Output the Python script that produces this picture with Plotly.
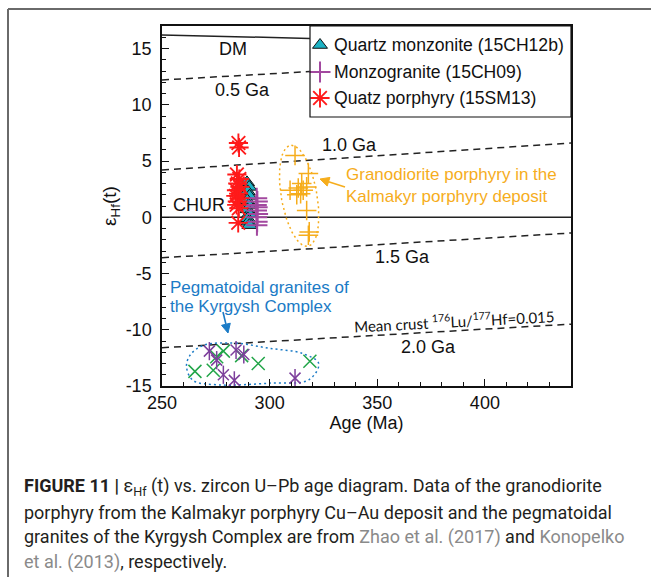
import numpy as np
import plotly.graph_objects as go

# ---- sample data: zircon U-Pb age (Ma) vs epsilon Hf(t) ----
qm_age = [289.5, 290.5, 289.8, 290.6, 289.6, 290.3, 289.7, 290.5, 289.8, 290.2, 290.6]
qm_eps = [3.1, 2.7, 2.3, 1.9, 1.5, 1.1, 0.7, 0.3, -0.1, -0.4, -0.7]

mg_age = [294.0, 294.3, 293.8, 294.2, 293.9, 294.4, 294.0, 294.2, 294.1]
mg_eps = [1.7, 1.4, 1.1, 0.9, 0.6, 0.3, 0.0, -0.4, -0.7]

qp_age = [285.5, 285.8, 284.8, 285.9, 285.2, 286.2, 284.6, 285.6, 284.3, 286.0, 285.0, 284.7, 285.7, 285.4]
qp_eps = [6.6, 6.2, 3.8, 3.4, 3.0, 2.7, 2.4, 2.1, 1.9, 1.7, 1.4, 1.1, 0.8, -0.5]

gp_age = [311.8, 318.0, 314.9, 309.5, 313.3, 315.6, 317.2, 314.4, 312.6, 317.2, 318.4, 318.0]
gp_eps = [5.5, 3.9, 3.0, 2.4, 2.6, 2.4, 2.7, 2.1, 2.0, 0.6, -1.3, -1.6]

peg_x_age = [265.3, 273.8, 275.4, 278.5, 287.0, 294.7, 318.7]
peg_x_eps = [-13.7, -13.6, -12.4, -11.9, -12.3, -13.0, -12.8]

peg_star_age = [272.0, 275.4, 284.4, 288.0, 278.5, 283.6, 311.8]
peg_star_eps = [-11.9, -12.7, -11.8, -12.2, -14.0, -14.5, -14.3]

# ---- reference evolution lines ----
dm_age, dm_eps = [250, 318.7], [16.2, 15.9]
ga05_age, ga05_eps = [250, 318.7], [12.2, 12.95]
chur_age, chur_eps = [250, 440], [0, 0]
ga10_age, ga10_eps = [250, 440], [4.2, 6.6]
ga15_age, ga15_eps = [250, 440], [-3.6, -1.4]
ga20_age, ga20_eps = [250, 440], [-11.6, -9.5]

# ---- axis ticks ----
x_ticks = [250, 300, 350, 400]
y_ticks = [-15, -10, -5, 0, 5, 10, 15]
y_tick_labels = ["-15", "-10", "-5", "0", "5", "10", "15"]

FONT = "Liberation Sans, Arial, sans-serif"
INK = "#111111"
ORANGE = "#f6ad1c"
BLUE = "#1b7bc6"
C_QM, C_MG, C_QP = "#1cb2c4", "#a2489f", "#ff1a1a"
C_PEG_X, C_PEG_S = "#21a548", "#7d3f9c"

# plot-area geometry in pixels (used by the overlay axis for legend / arrows)
L, R, T, B = 162, 571, 26, 386

fig = go.Figure()

solid = dict(color="#222222", width=1.5)
dashed = dict(color="#222222", width=1.5, dash="7px,5px")
for xs, ys, style in [(dm_age, dm_eps, solid), (ga05_age, ga05_eps, dashed),
                      (chur_age, chur_eps, solid), (ga10_age, ga10_eps, dashed),
                      (ga15_age, ga15_eps, dashed), (ga20_age, ga20_eps, dashed)]:
    fig.add_trace(go.Scatter(x=xs, y=ys, mode="lines", line=style,
                             showlegend=False, hoverinfo="skip"))

# field outlines
t = np.linspace(0, 2 * np.pi, 100)
gp_c = (313.7, 1.9)
fig.add_trace(go.Scatter(
    x=gp_c[0] + np.cos(t) * -3.6 + np.sin(t) * 8.4,
    y=gp_c[1] + np.cos(t) * 4.5,
    mode="lines", line=dict(color=ORANGE, width=1.5, dash="2px,3px"),
    showlegend=False, hoverinfo="skip"))

blob_age = [269, 284.4, 299.8, 315.1, 322.8, 318.2, 299.8, 276.7, 264.4, 261.4, 262.9, 269]
blob_eps = [-11.4, -11.2, -11.65, -12.1, -13.0, -14.45, -14.75, -14.9, -14.5, -13.3, -12.3, -11.4]
fig.add_trace(go.Scatter(x=blob_age, y=blob_eps, mode="lines",
                         line=dict(color=BLUE, width=1.5, dash="2px,3px", shape="spline"),
                         showlegend=False, hoverinfo="skip"))


def open_marker(sym, size, color, width=1.5):
    return dict(symbol=sym, size=size, color=color, line=dict(color=color, width=width))


# literature samples
fig.add_trace(go.Scatter(x=gp_age, y=gp_eps, mode="markers", showlegend=False,
                         marker=open_marker("cross-thin-open", 14, ORANGE)))
fig.add_trace(go.Scatter(x=peg_x_age, y=peg_x_eps, mode="markers", showlegend=False,
                         marker=open_marker("x-thin-open", 13, C_PEG_X)))
for sym, sz in [("x-thin-open", 11), ("line-ns-open", 13)]:
    fig.add_trace(go.Scatter(x=peg_star_age, y=peg_star_eps, mode="markers", showlegend=False,
                             marker=open_marker(sym, sz, C_PEG_S)))

# samples of this study
tri = dict(symbol="triangle-up", size=13, color=C_QM, line=dict(color=INK, width=1))
plus = open_marker("cross-thin-open", 15, C_MG, 2)
star = open_marker("asterisk-open", 16, C_QP, 1.9)
fig.add_trace(go.Scatter(x=qm_age, y=qm_eps, mode="markers", showlegend=False, marker=tri))
fig.add_trace(go.Scatter(x=mg_age, y=mg_eps, mode="markers", showlegend=False, marker=plus))
fig.add_trace(go.Scatter(x=qp_age, y=qp_eps, mode="markers", showlegend=False, marker=star))

# legend drawn in pixel space on an overlay axis
leg_names = ["Quartz monzonite (15CH12b)", "Monzogranite (15CH09)", "Quatz porphyry (15SM13)"]
leg_marks = [tri, plus, star]
leg_y = [45, 72, 98]
for name, mk, py in zip(leg_names, leg_marks, leg_y):
    fig.add_trace(go.Scatter(x=[320], y=[py], xaxis="x2", yaxis="y2", mode="markers",
                             marker=mk, showlegend=False, hoverinfo="skip", cliponaxis=False))

ann = []
def label(x, y, text, size=18, color=INK, anchor="center", angle=0, family=FONT, ref=("x", "y")):
    ann.append(dict(x=x, y=y, xref=ref[0], yref=ref[1], text=text, showarrow=False,
                    xanchor=anchor, yanchor="middle", textangle=angle,
                    font=dict(family=family, size=size, color=color)))

for name, py in zip(leg_names, leg_y):
    label(332, py, name, size=17.6, anchor="left", ref=("x2", "y2"))

label(283.0, 15.0, "DM")
label(287.2, 11.3, "0.5 Ga")
label(337.3, 6.45, "1.0 Ga")
label(267.2, 1.1, "CHUR")
label(361.5, -3.55, "1.5 Ga")
label(373.8, -11.55, "2.0 Ga")
label(386.0, -9.15, "Mean crust <sup>176</sup>Lu/<sup>177</sup>Hf=0.015", size=15,
      angle=-3, family="Lato, Liberation Sans, sans-serif")
label(334.7, 3.8, "Granodiorite porphyry in the", size=17, color=ORANGE, anchor="left")
label(334.7, 1.85, "Kalmakyr porphyry deposit", size=17, color=ORANGE, anchor="left")
label(252.7, -6.2, "Pegmatoidal granites of", size=17, color=BLUE, anchor="left")
label(252.7, -7.95, "the Kyrgysh Complex", size=17, color=BLUE, anchor="left")

# caption
CAP_FONT = "Roboto, Liberation Sans, sans-serif"
cap_lines = [
    "<b>FIGURE 11 |</b> ε<sub>Hf</sub> (t) vs. zircon U–Pb age diagram. Data of the granodiorite",
    "porphyry from the Kalmakyr porphyry Cu–Au deposit and the pegmatoidal",
    "granites of the Kyrgysh Complex are from <span style='color:#8a8a8a'>Zhao et al. (2017)</span> and <span style='color:#8a8a8a'>Konopelko</span>",
    "<span style='color:#8a8a8a'>et al. (2013)</span>, respectively.",
]
cap_y = [487, 512, 537, 562]
for txt, py in zip(cap_lines, cap_y):
    ann.append(dict(x=(22 - L) / (R - L), y=(B - py) / (B - T), xref="paper", yref="paper",
                    text=txt, showarrow=False, xanchor="left", yanchor="middle",
                    font=dict(family=CAP_FONT, size=18, color="#231f20")))


def arrow(tail, head, color, hl=9, hw=4.5):
    """Pointer line plus filled head, in overlay-pixel coordinates."""
    (x0, y0), (x1, y1) = tail, head
    d = np.array([x1 - x0, y1 - y0], float)
    d /= np.hypot(*d)
    n = np.array([-d[1], d[0]])
    base = np.array([x1, y1]) - d * hl
    p1, p2 = base + n * hw, base - n * hw
    return [
        dict(type="line", xref="x2", yref="y2", x0=x0, y0=y0, x1=base[0], y1=base[1],
             line=dict(color=color, width=1.6)),
        dict(type="path", xref="x2", yref="y2", fillcolor=color, line=dict(color=color, width=1),
             path=f"M {x1},{y1} L {p1[0]},{p1[1]} L {p2[0]},{p2[1]} Z"),
    ]


shapes = [
    # legend frame
    dict(type="rect", xref="x2", yref="y2", x0=310, x1=R, y0=T, y1=117,
         line=dict(color=INK, width=1.2)),
    # page frame
    dict(type="line", xref="paper", yref="paper", x0=(8 - L) / (R - L), x1=(651 - L) / (R - L),
         y0=(B - 9) / (B - T), y1=(B - 9) / (B - T), line=dict(color="#6a6a6a", width=2)),
    dict(type="line", xref="paper", yref="paper", x0=(8 - L) / (R - L), x1=(8 - L) / (R - L),
         y0=(B - 9) / (B - T), y1=(B - 577) / (B - T), line=dict(color="#6a6a6a", width=2)),
]
shapes += arrow((345, 187), (320, 179), ORANGE)
shapes += arrow((223, 312), (228, 333), BLUE)

axis_common = dict(ticks="inside", ticklen=7, tickwidth=1.2, tickcolor=INK, showline=True,
                   linecolor=INK, linewidth=1.5, mirror=True, showgrid=False, zeroline=False,
                   tickfont=dict(size=18, color=INK))

fig.update_layout(
    width=651, height=577,
    margin=dict(l=L, r=651 - R, t=T, b=577 - B),
    paper_bgcolor="white", plot_bgcolor="white",
    font=dict(family=FONT, size=18, color=INK),
    annotations=ann,
    shapes=shapes,
    showlegend=False,
    xaxis=dict(range=[250, 440], tickvals=x_ticks,
               minor=dict(dtick=10, ticks="inside", ticklen=4, tickcolor=INK),
               title=dict(text="Age (Ma)", font=dict(size=18), standoff=4), **axis_common),
    yaxis=dict(range=[-15, 17], tickvals=y_ticks, ticktext=y_tick_labels, ticklabelstandoff=5,
               minor=dict(dtick=1, ticks="inside", ticklen=4, tickcolor=INK),
               title=dict(text="ε<sub>Hf</sub>(t)", font=dict(size=19), standoff=4), **axis_common),
    xaxis2=dict(range=[L, R], overlaying="x", visible=False, fixedrange=True),
    yaxis2=dict(range=[B, T], overlaying="y", visible=False, fixedrange=True),
)

fig.write_html("out.html")
